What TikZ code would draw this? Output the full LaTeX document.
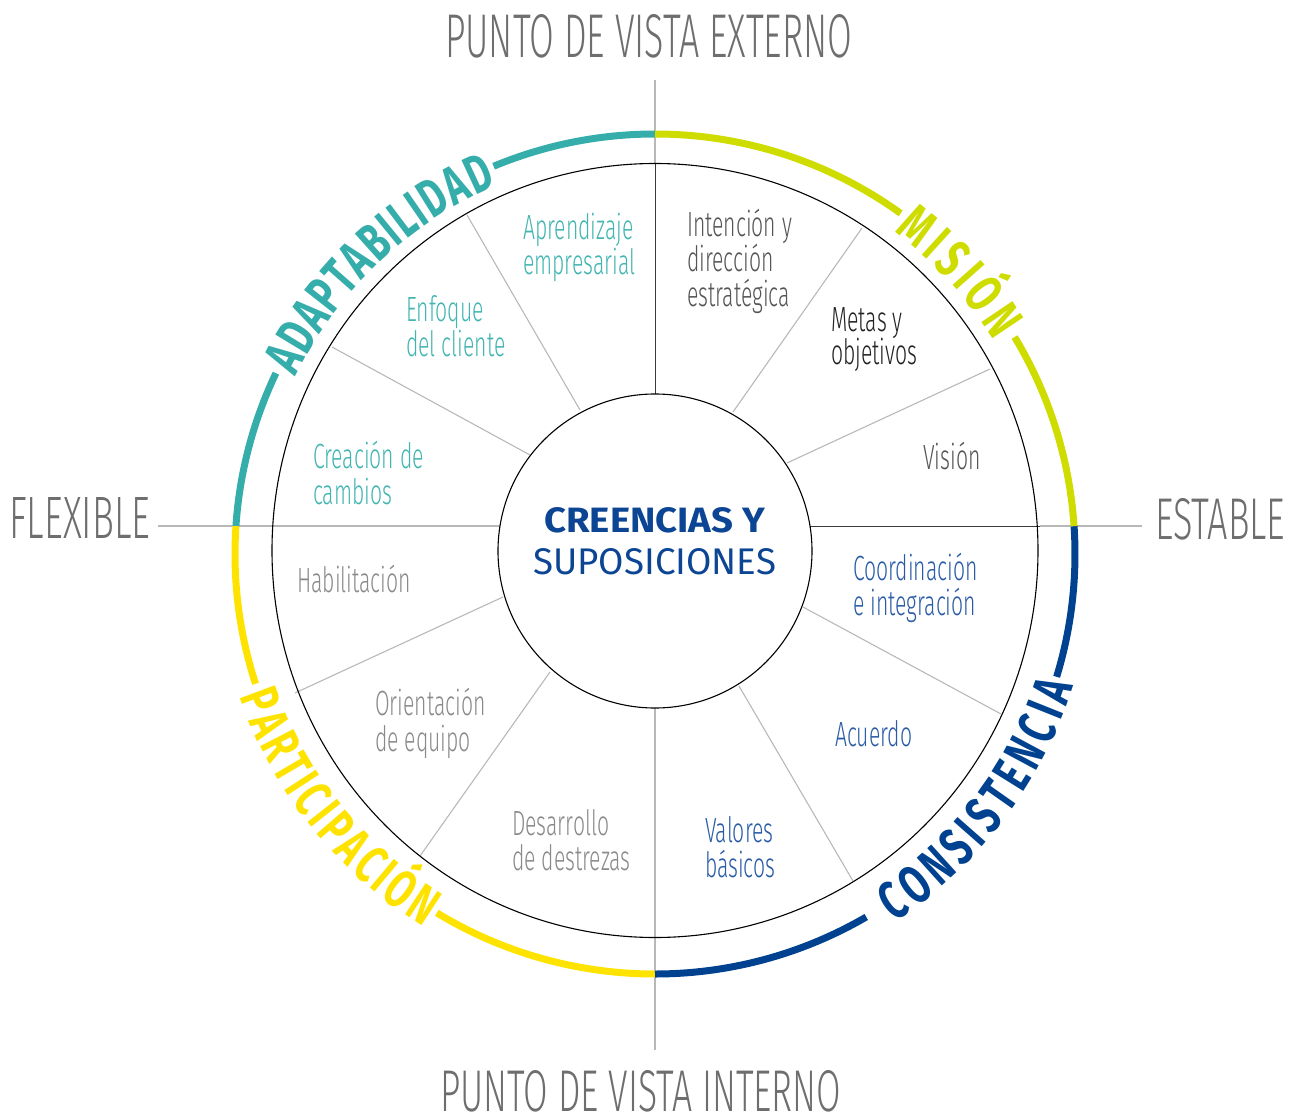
\documentclass[tikz,border=0pt]{standalone}
\usepackage{fontspec}
\usetikzlibrary{decorations.text}
\newfontfamily\lightfont{Fira Sans Light}[FakeStretch=0.605]
\newfontfamily\axisfont{Fira Sans Light}
\newfontfamily\regfont{Fira Sans}
\newfontfamily\arcfont{Fira Sans}[FakeStretch=0.68]
\newcommand\arclabfont{\arcfont\bfseries\fontsize{54}{54}\selectfont}
\definecolor{cteal}{HTML}{35ADAA}
\definecolor{tealtxt}{HTML}{43B5B1}
\definecolor{clime}{HTML}{CEDC00}
\definecolor{cyellow}{HTML}{FFE300}
\definecolor{cblue}{HTML}{00428F}
\definecolor{bluetxt}{HTML}{2A5CA6}
\definecolor{cnavy}{HTML}{0B4594}
\definecolor{axgray}{HTML}{6E6E6E}
\definecolor{dkgray}{HTML}{555555}
\definecolor{mdgray}{HTML}{8A8A8A}
\definecolor{blk}{HTML}{222222}
\definecolor{linegray}{HTML}{B8B8B8}
\definecolor{dline}{HTML}{3A3A3A}
\begin{document}
\begin{tikzpicture}[x=1pt,y=1pt,
  gline/.style={draw=linegray, line width=1.1pt},
  dline/.style={draw=dline, line width=1pt},
  circ/.style={draw=black, line width=1.1pt},
  ring/.style={line width=7pt},
  lbl/.style={anchor=base west, inner sep=0pt, font=\lightfont\fontsize{35}{35}\selectfont},
  axlbl/.style={anchor=base west, inner sep=0pt, text=axgray}]
\useasboundingbox (-655,-568) rectangle (645,551);
\coordinate (O) at (0,0);
\coordinate (C2) at (0,-3);
% axes
\draw[gline] (-497,25) -- (-155,25);
\draw[dline] (155,25) -- (385,25);
\draw[gline] (385,25) -- (487,25);
\draw[gline] (0,471) -- (0,387);
\draw[dline] (0,387) -- (0,157);
\draw[gline] (0,-157) -- (0,-499);
% dividers
\draw[gline] (-188,336) -- (-75,141);
\draw[gline] (-323,204) -- (-125,96);
\draw[gline] (207,323) -- (78,139);
\draw[gline] (335,182) -- (132,88);
\draw[gline] (-360,-142) -- (-152,-46);
\draw[gline] (-235,-305) -- (-105,-121);
\draw[gline] (198,-330) -- (84,-135);
\draw[gline] (346,-163) -- (148,-56);
% circles
\draw[circ] (O) circle[radius=157pt];
\draw[circ] (0,0.5) circle[x radius=383pt, y radius=387pt];
% coloured ring
\draw[ring, draw=cteal] ([shift={(C2)}]90:420pt) arc[start angle=90, end angle=112.6, radius=420pt];
\draw[ring, draw=cteal] ([shift={(C2)}]154.5:420pt) arc[start angle=154.5, end angle=176.2, radius=420pt];
\draw[ring, draw=cyellow] ([shift={(C2)}]176.2:420pt) arc[start angle=176.2, end angle=198, radius=420pt];
\draw[ring, draw=cyellow] ([shift={(C2)}]238.7:420pt) arc[start angle=238.7, end angle=270, radius=420pt];
\draw[ring, draw=cblue] ([shift={(C2)}]270:420pt) arc[start angle=270, end angle=300.2, radius=420pt];
\draw[ring, draw=cblue] ([shift={(C2)}]343:420pt) arc[start angle=343, end angle=363.8, radius=420pt];
\draw[ring, draw=clime] ([shift={(C2)}]3.8:420pt) arc[start angle=3.8, end angle=31.1, radius=420pt];
\draw[ring, draw=clime] ([shift={(C2)}]54.2:420pt) arc[start angle=54.2, end angle=90, radius=420pt];
% ring labels
\path[decorate, decoration={text along path, text align=fit to path,
  text={|\arclabfont\color{cteal}|ADAPTABILIDAD}}]
  ([shift={(C2)}]153.8:401pt) arc[start angle=153.8, end angle=113.2, radius=401pt];
\path[decorate, decoration={text along path, text align=fit to path,
  text={|\arclabfont\color{clime}|MISIÓN}}]
  ([shift={(C2)}]53.4:401pt) arc[start angle=53.4, end angle=32.2, radius=401pt];
\path[decorate, decoration={text along path, text align=fit to path,
  text={|\arclabfont\color{cblue}|CONSISTENCIA}}]
  ([shift={(C2)}]-57:439pt) arc[start angle=-57, end angle=-17.5, radius=439pt];
\path[decorate, decoration={text along path, text align=fit to path,
  text={|\arclabfont\color{cyellow}|PARTICIPACIÓN}}]
  ([shift={(C2)}]199:439pt) arc[start angle=199, end angle=238.2, radius=439pt];
% axis labels
\node[axlbl] (ext) at (-210,493) {\resizebox{407pt}{43pt}{\axisfont PUNTO DE VISTA EXTERNO}};
\node[axlbl] (intl) at (-215,-560) {\resizebox{401pt}{41pt}{\axisfont PUNTO DE VISTA INTERNO}};
\node[axlbl] (flex) at (-646,12) {\resizebox{141pt}{41pt}{\axisfont FLEXIBLE}};
\node[axlbl] (est) at (500,12) {\resizebox{130pt}{41pt}{\axisfont ESTABLE}};
% centre
\node[anchor=base west, inner sep=0pt, text=cnavy] (cen1) at (-111,19) {\resizebox{221pt}{25pt}{\regfont\bfseries CREENCIAS Y}};
\node[anchor=base west, inner sep=0pt, text=cnavy] (cen2) at (-122,-23) {\resizebox{243pt}{26pt}{\regfont SUPOSICIONES}};
% sector labels
\node[lbl, text=tealtxt] (apr1) at (-132,311) {Aprendizaje};
\node[lbl, text=tealtxt] (apr2) at (-132,276) {empresarial};
\node[lbl, text=dkgray] (int1) at (32,314) {Intención y};
\node[lbl, text=dkgray] (int2) at (32,279) {dirección};
\node[lbl, text=dkgray] (int3) at (32,244) {estratégica};
\node[lbl, text=blk] (met1) at (176,219) {Metas y};
\node[lbl, text=blk] (met2) at (176,186) {objetivos};
\node[lbl, text=dkgray] (vis) at (268,82) {Visión};
\node[lbl, text=bluetxt] (coo1) at (198,-29) {Coordinación};
\node[lbl, text=bluetxt] (coo2) at (198,-64) {e integración};
\node[lbl, text=bluetxt] (acu) at (180,-195) {Acuerdo};
\node[lbl, text=bluetxt] (val1) at (50,-291) {Valores};
\node[lbl, text=bluetxt] (val2) at (50,-326) {básicos};
\node[lbl, text=mdgray] (des1) at (-143,-284) {Desarrollo};
\node[lbl, text=mdgray] (des2) at (-143,-319) {de destrezas};
\node[lbl, text=mdgray] (ori1) at (-280,-164) {Orientación};
\node[lbl, text=mdgray] (ori2) at (-280,-200) {de equipo};
\node[lbl, text=mdgray] (hab) at (-358,-41) {Habilitación};
\node[lbl, text=tealtxt] (cre1) at (-342,83) {Creación de};
\node[lbl, text=tealtxt] (cre2) at (-342,47) {cambios};
\node[lbl, text=tealtxt] (enf1) at (-249,229) {Enfoque};
\node[lbl, text=tealtxt] (enf2) at (-249,194) {del cliente};
\end{tikzpicture}
\end{document}
